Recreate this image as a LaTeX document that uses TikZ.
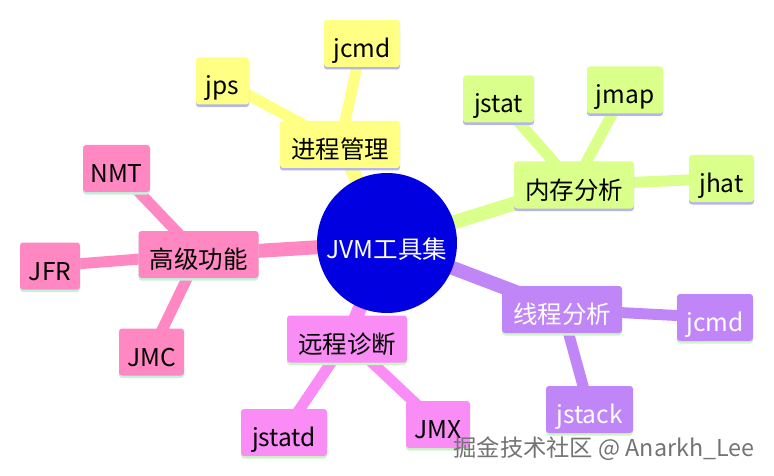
\documentclass[tikz,border=0pt]{standalone}
\usepackage{fontspec}
\setmainfont{Noto Sans CJK SC}
\usepackage{tikz}
\usetikzlibrary{positioning, backgrounds, shadows}
\usepackage{xcolor}
\definecolor{rootcolor}{HTML}{0000E0}
\definecolor{proccolor}{HTML}{FFFF84}
\definecolor{memcolor}{HTML}{DAFF8A}
\definecolor{advcolor}{HTML}{FF88C2}
\definecolor{remotecolor}{HTML}{F98CF5}
\definecolor{threadcolor}{HTML}{C086F8}
\definecolor{lavcolor}{HTML}{B4B4EE}
\definecolor{mintcolor}{HTML}{C4F2DC}
\definecolor{palegreen}{HTML}{CDF5C6}

\begin{document}
\begin{tikzpicture}[
    x=1pt, y=-1pt,
    box/.style={rectangle, rounded corners=3pt, minimum height=47pt, inner xsep=0pt, inner ysep=0pt,
        text height=28pt, text depth=0pt, font=\fontsize{24.5}{26}\selectfont, text=black},
    topic/.style={box, minimum width=120pt},
    proc/.style={fill=proccolor, general shadow={fill=lavcolor, shadow yshift=-2.5pt}},
    mem/.style={fill=memcolor, general shadow={fill=lavcolor, shadow yshift=-2.5pt}},
    adv/.style={fill=advcolor, general shadow={fill=mintcolor, shadow yshift=-2.5pt}},
    remote/.style={fill=remotecolor, general shadow={fill=palegreen, shadow yshift=-2.5pt}},
    thread/.style={fill=threadcolor, text=white, general shadow={fill=palegreen, shadow yshift=-2.5pt}},
    branch/.style={line width=14pt},
    twig/.style={line width=11pt},
]

\useasboundingbox (0,0) rectangle (774,476);

% centre
\node[circle, fill=rootcolor, minimum size=140pt, inner sep=0pt, text=white,
    text height=31pt, text depth=0pt, font=\fontsize{24.5}{26}\selectfont] (root) at (387,243) {JVM工具集};

% topics
\node[topic, proc] (proc) at (340,144.5) {进程管理};
\node[topic, mem] (mem) at (574,185) {内存分析};
\node[topic, adv] (adv) at (198.5,254.5) {高级功能};
\node[topic, remote] (remote) at (347,339) {远程诊断};
\node[topic, thread] (thread) at (562,309.5) {线程分析};

% tools
\node[box, proc, minimum width=53pt] (jps) at (222.5,81) {jps};
\node[box, proc, minimum width=76pt] (jcmdA) at (362,43.5) {jcmd};
\node[box, mem, minimum width=71pt] (jstat) at (498.5,99) {jstat};
\node[box, mem, minimum width=76pt] (jmap) at (625,90) {jmap};
\node[box, mem, minimum width=65pt] (jhat) at (721.5,178.5) {jhat};
\node[box, adv, minimum width=67pt] (nmt) at (116.5,168.5) {NMT};
\node[box, adv, minimum width=60pt] (jfr) at (50,266) {JFR};
\node[box, adv, minimum width=65pt] (jmc) at (151.5,352) {JMC};
\node[box, remote, minimum width=86pt] (jstatd) at (284,432.5) {jstatd};
\node[box, remote, minimum width=64pt] (jmx) at (438,424.5) {JMX};
\node[box, thread, minimum width=76pt] (jcmdB) at (715,317.5) {jcmd};
\node[box, thread, minimum width=87pt] (jstack) at (589.5,409.5) {jstack};

% connectors
\begin{scope}[on background layer]
\draw[branch, proccolor] (root.center) -- (proc.center);
\draw[branch, memcolor] (root.center) -- (mem.center);
\draw[branch, advcolor] (root.center) -- (adv.center);
\draw[branch, remotecolor] (root.center) -- (remote.center);
\draw[branch, threadcolor] (root.center) -- (thread.center);
\draw[twig, proccolor] (proc.center) -- (jps.center);
\draw[twig, proccolor] (proc.center) -- (jcmdA.center);
\draw[twig, memcolor] (mem.center) -- (jstat.center);
\draw[twig, memcolor] (mem.center) -- (jmap.center);
\draw[twig, memcolor] (mem.center) -- (jhat.center);
\draw[twig, advcolor] (adv.center) -- (nmt.center);
\draw[twig, advcolor] (adv.center) -- (jfr.center);
\draw[twig, advcolor] (adv.center) -- (jmc.center);
\draw[twig, remotecolor] (remote.center) -- (jstatd.center);
\draw[twig, remotecolor] (remote.center) -- (jmx.center);
\draw[twig, threadcolor] (thread.center) -- (jcmdB.center);
\draw[twig, threadcolor] (thread.center) -- (jstack.center);
\end{scope}

% watermark
\node[text=black!55, font=\fontsize{23.3}{25}\selectfont, anchor=east] (mark) at (758,449) {掘金技术社区 @ Anarkh\_Lee};

\end{tikzpicture}
\end{document}
